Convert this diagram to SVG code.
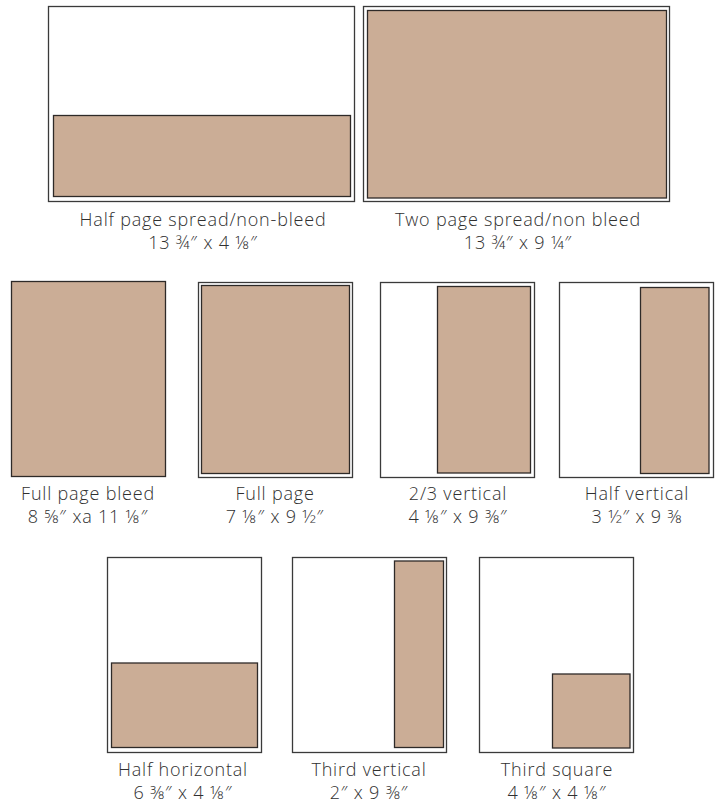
<svg xmlns="http://www.w3.org/2000/svg" width="717" height="804" viewBox="0 0 717 804">
<style>
.page{fill:#fff;stroke:#3a3a3a;stroke-width:1.3}
.ad{fill:#cbad96;stroke:#2e2a28;stroke-width:1.3}
.lbl{font-family:"Open Sans","Liberation Sans",sans-serif;font-weight:350;font-size:18px;letter-spacing:0.8px;fill:#303030;text-anchor:middle}
</style>
<rect width="717" height="804" fill="#fff"/>
<g id="half-page-spread">
<rect class="page" x="48.5" y="6.5" width="306" height="195"/>
<rect class="ad" x="53.5" y="115.5" width="297" height="81"/>
<text class="lbl" x="203" y="226">Half page spread/non-bleed</text>
<text class="lbl" x="203" y="249">13 ¾″ x 4 ⅛″</text>
</g>
<g id="two-page-spread">
<rect class="page" x="363.5" y="6.5" width="306" height="195"/>
<rect class="ad" x="367.5" y="10.5" width="299" height="187.5"/>
<text class="lbl" x="518" y="226">Two page spread/non bleed</text>
<text class="lbl" x="518" y="249">13 ¾″ x 9 ¼″</text>
</g>
<g id="full-page-bleed">
<rect class="ad" x="11.5" y="281.5" width="154" height="195"/>
<text class="lbl" x="88" y="500">Full page bleed</text>
<text class="lbl" x="88" y="523">8 ⅝″ xa 11 ⅛″</text>
</g>
<g id="full-page">
<rect class="page" x="198.5" y="282.5" width="154" height="195"/>
<rect class="ad" x="201.5" y="285.5" width="148" height="188"/>
<text class="lbl" x="275" y="500">Full page</text>
<text class="lbl" x="275" y="523">7 ⅛″ x 9 ½″</text>
</g>
<g id="two-thirds-vertical">
<rect class="page" x="380.5" y="282.5" width="154" height="195"/>
<rect class="ad" x="437.5" y="286.5" width="93" height="186.5"/>
<text class="lbl" x="458" y="500">2/3 vertical</text>
<text class="lbl" x="458" y="523">4 ⅛″ x 9 ⅜″</text>
</g>
<g id="half-vertical">
<rect class="page" x="559.5" y="282.5" width="154" height="195"/>
<rect class="ad" x="640.5" y="287.5" width="68.5" height="186"/>
<text class="lbl" x="637" y="500">Half vertical</text>
<text class="lbl" x="637" y="523">3 ½″ x 9 ⅜</text>
</g>
<g id="half-horizontal">
<rect class="page" x="107.5" y="557.5" width="154" height="195"/>
<rect class="ad" x="111.5" y="663" width="146" height="84.5"/>
<text class="lbl" x="183" y="776">Half horizontal</text>
<text class="lbl" x="183" y="799">6 ⅜″ x 4 ⅛″</text>
</g>
<g id="third-vertical">
<rect class="page" x="292.5" y="557.5" width="154" height="195"/>
<rect class="ad" x="394.5" y="561" width="49" height="186.5"/>
<text class="lbl" x="369" y="776">Third vertical</text>
<text class="lbl" x="369" y="799">2″ x 9 ⅜″</text>
</g>
<g id="third-square">
<rect class="page" x="479.5" y="557.5" width="154" height="195"/>
<rect class="ad" x="552.5" y="674" width="77.5" height="74"/>
<text class="lbl" x="557" y="776">Third square</text>
<text class="lbl" x="557" y="799">4 ⅛″ x 4 ⅛″</text>
</g>
<g id="connectors"/>
</svg>
